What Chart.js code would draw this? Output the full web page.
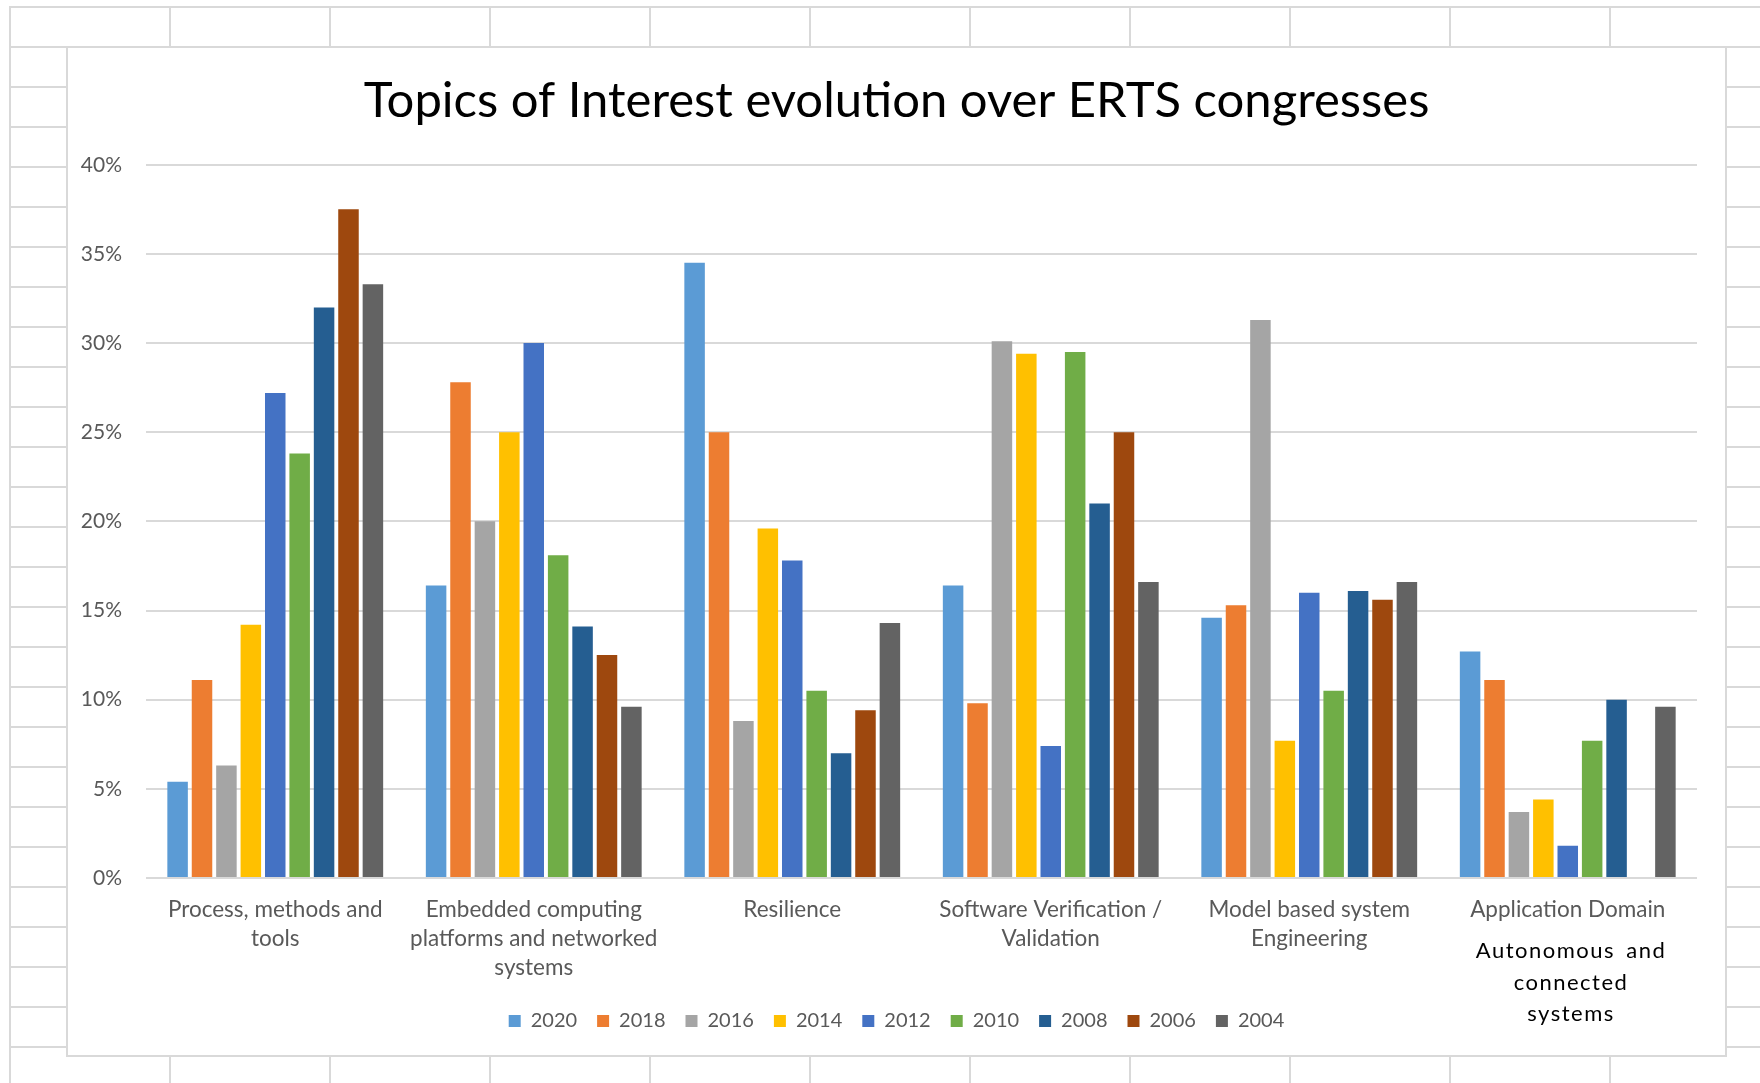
<!DOCTYPE html>
<html lang="en">
<head>
    <meta charset="UTF-8">
    <title>Topics of Interest evolution over ERTS congresses</title>
    <script src="https://cdn.jsdelivr.net/npm/chart.js"></script>
    <style>
        body {
            margin: 0;
            width: 1760px;
            height: 1083px;
            background: #fff;
            overflow: hidden;
            font-family: Lato, sans-serif;
        }
        #sheet {
            position: absolute;
            left: 9px;
            top: 6px;
            right: 0;
            bottom: 0;
            background-image:
                linear-gradient(to right, #d9d9d9 2px, transparent 2px),
                linear-gradient(to bottom, #d9d9d9 2px, transparent 2px);
            background-size: 160px 40px;
        }
        #box {
            position: absolute;
            left: 66px;
            top: 46px;
            width: 1661px;
            height: 1011px;
            box-sizing: border-box;
            border: 2px solid #d9d9d9;
            background: #fff;
        }
        #note {
            position: absolute;
            left: 1421px;
            top: 934px;
            width: 300px;
            text-align: center;
            font-size: 22px;
            line-height: 31.5px;
            letter-spacing: 1.5px;
            word-spacing: 4px;
            color: #000;
        }
    </style>
</head>
<body>

<div id="sheet"></div>
<div id="box">
    <canvas id="myChart"></canvas>
</div>
<div id="note">Autonomous and<br>connected<br>systems</div>

<script>
    const categories = [
        ['Process, methods and', 'tools'],
        ['Embedded computing', 'platforms and networked', 'systems'],
        'Resilience',
        ['Software Verification /', 'Validation'],
        ['Model based system', 'Engineering'],
        'Application Domain'
    ];
    const years = ['2020', '2018', '2016', '2014', '2012', '2010', '2008', '2006', '2004'];
    const yTicks = [0, 5, 10, 15, 20, 25, 30, 35, 40];

    // share of papers per topic, in %
    const v2020 = [5.4, 16.4, 34.5, 16.4, 14.6, 12.7];
    const v2018 = [11.1, 27.8, 25.0, 9.8, 15.3, 11.1];
    const v2016 = [6.3, 20.0, 8.8, 30.1, 31.3, 3.7];
    const v2014 = [14.2, 25.0, 19.6, 29.4, 7.7, 4.4];
    const v2012 = [27.2, 30.0, 17.8, 7.4, 16.0, 1.8];
    const v2010 = [23.8, 18.1, 10.5, 29.5, 10.5, 7.7];
    const v2008 = [32.0, 14.1, 7.0, 21.0, 16.1, 10.0];
    const v2006 = [37.5, 12.5, 9.4, 25.0, 15.6, null];
    const v2004 = [33.3, 9.6, 14.3, 16.6, 16.6, 9.6];

    const series = [v2020, v2018, v2016, v2014, v2012, v2010, v2008, v2006, v2004];
    const colors = ['#5B9BD5', '#ED7D31', '#A5A5A5', '#FFC000', '#4472C4', '#70AD47', '#255E91', '#9E480E', '#636363'];

    Chart.defaults.font.family = 'Lato, sans-serif';
    Chart.defaults.color = '#595959';

    const ctx = document.getElementById('myChart').getContext('2d');
    const chart = new Chart(ctx, {
        type: 'bar',
        data: {
            labels: categories,
            datasets: years.map((y, i) => ({
                label: y,
                data: series[i],
                backgroundColor: colors[i],
                borderWidth: 0,
                barPercentage: 0.84,
                categoryPercentage: 0.85
            }))
        },
        options: {
            responsive: true,
            maintainAspectRatio: false,
            animation: false,
            layout: {
                padding: { left: 0, right: 0, top: 0, bottom: 14 }
            },
            plugins: {
                title: {
                    display: true,
                    text: 'Topics of Interest evolution over ERTS congresses',
                    color: '#000',
                    font: { size: 49, weight: 'normal' },
                    padding: { top: 24, bottom: 34 }
                },
                legend: {
                    position: 'bottom',
                    labels: {
                        boxWidth: 12,
                        boxHeight: 12,
                        padding: 20,
                        color: '#595959',
                        font: { size: 20 }
                    }
                },
                tooltip: { enabled: false }
            },
            scales: {
                x: {
                    grid: { display: false, drawTicks: false },
                    border: { display: false },
                    ticks: {
                        padding: 17,
                        color: '#595959',
                        maxRotation: 0,
                        autoSkip: false,
                        font: { size: 22.5, lineHeight: 1.29 }
                    },
                    afterFit: (scale) => { scale.height -= 8; }
                },
                y: {
                    min: 0,
                    max: 40,
                    afterBuildTicks: (scale) => {
                        scale.ticks = yTicks.map(v => ({ value: v }));
                    },
                    afterFit: (scale) => { scale.width = 78; },
                    grid: { color: '#d9d9d9', lineWidth: 2, drawTicks: false },
                    border: { display: false },
                    ticks: {
                        padding: 24,
                        color: '#595959',
                        font: { size: 21 },
                        callback: (v) => v + '%'
                    }
                },
                // empty right margin so the title and legend stay centred on the box
                yRight: {
                    position: 'right',
                    grid: { display: false, drawTicks: false },
                    border: { display: false },
                    ticks: { display: false },
                    afterFit: (scale) => { scale.width = 28; }
                }
            }
        }
    });
</script>

</body>
</html>
